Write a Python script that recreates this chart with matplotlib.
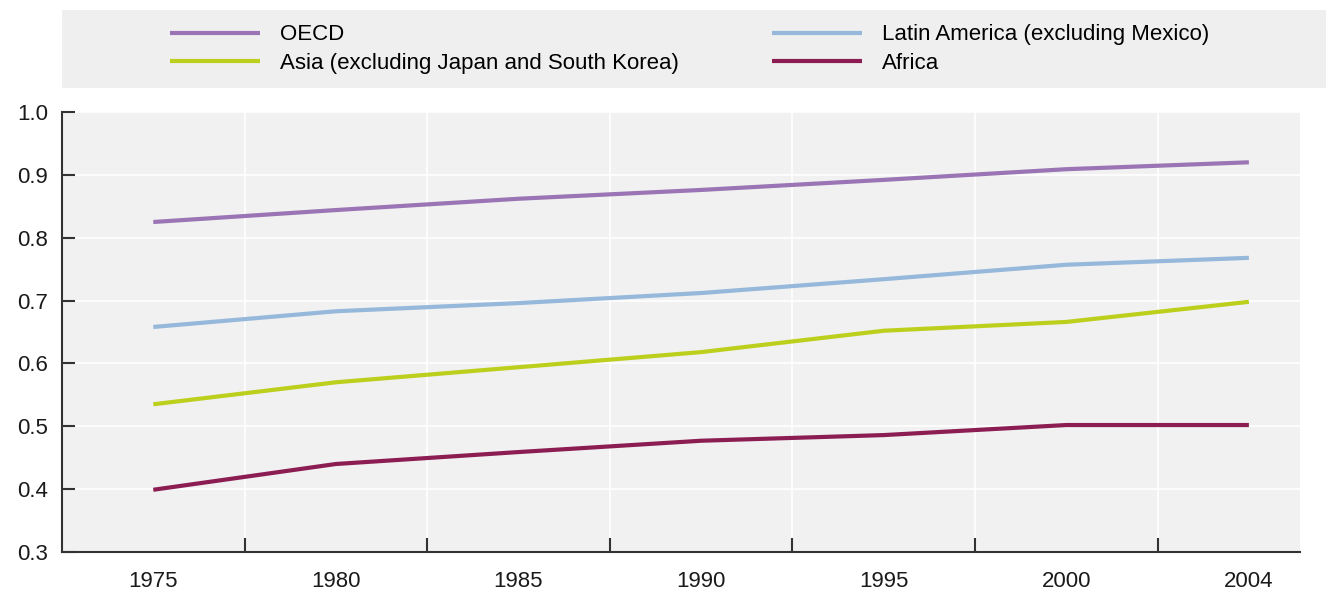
import numpy as np
import matplotlib.pyplot as plt

years = ['1975', '1980', '1985', '1990', '1995', '2000', '2004']

oecd = [0.825, 0.844, 0.862, 0.876, 0.892, 0.909, 0.920]
latin = [0.658, 0.683, 0.696, 0.712, 0.734, 0.757, 0.768]
asia = [0.535, 0.570, 0.594, 0.618, 0.652, 0.666, 0.698]
africa = [0.399, 0.440, 0.459, 0.477, 0.486, 0.502, 0.502]

names = ['OECD', 'Asia (excluding Japan and South Korea)',
         'Latin America (excluding Mexico)', 'Africa']
series = [oecd, asia, latin, africa]
colors = ['#9a74b4', '#bccf1c', '#96b8da', '#8c1d52']

plt.rcParams['font.family'] = ['Liberation Sans', 'DejaVu Sans']

fig = plt.figure(figsize=(13.26, 5.92), dpi=100)
ax = fig.add_axes([62/1326, 40/592, 1238/1326, 440/592])
ax.set_facecolor('#f1f1f1')

x = np.arange(len(years))
handles = []
for s, n, c in zip(series, names, colors):
    h, = ax.plot(x, s, color=c, lw=3, label=n, solid_capstyle='butt')
    handles.append(h)

ax.set_ylim(0.3, 1.0)
ax.set_yticks(np.arange(0.3, 1.01, 0.1))
ax.set_yticklabels(['%.1f' % v for v in np.arange(0.3, 1.01, 0.1)])
ax.set_xlim(-0.5, 6.28)
ax.set_xticks(x)
ax.set_xticklabels(years)
ax.set_xticks(np.arange(0.5, 6, 1), minor=True)

ax.grid(True, which='major', axis='y', color='white', lw=1.2)
ax.grid(True, which='minor', axis='x', color='white', lw=1.2)
ax.set_axisbelow(True)

for sp in ['top', 'right']:
    ax.spines[sp].set_visible(False)
for sp in ['left', 'bottom']:
    ax.spines[sp].set_color('#333333')
    ax.spines[sp].set_linewidth(1.5)

ax.tick_params(axis='y', direction='in', length=9, width=1.5, color='#333333',
               labelsize=16, labelcolor='#1a1a1a', pad=10)
ax.tick_params(axis='x', which='major', length=0, labelsize=16,
               labelcolor='#1a1a1a', pad=14)
ax.tick_params(axis='x', which='minor', direction='in', length=10, width=1.5,
               color='#333333')

# legend panel
lax = fig.add_axes([62/1326, (592-88)/592, 1264/1326, 78/592])
lax.set_facecolor('#efefef')
lax.set_xticks([])
lax.set_yticks([])
for sp in lax.spines.values():
    sp.set_visible(False)
lax.legend(handles, names, ncol=2, loc='center left', bbox_to_anchor=(0.0854, 0.5),
           frameon=False, fontsize=16, handlelength=4.05, handletextpad=0.9,
           columnspacing=4.2, labelspacing=0.32, borderpad=0, borderaxespad=0)

plt.savefig('out.png', dpi=100)
